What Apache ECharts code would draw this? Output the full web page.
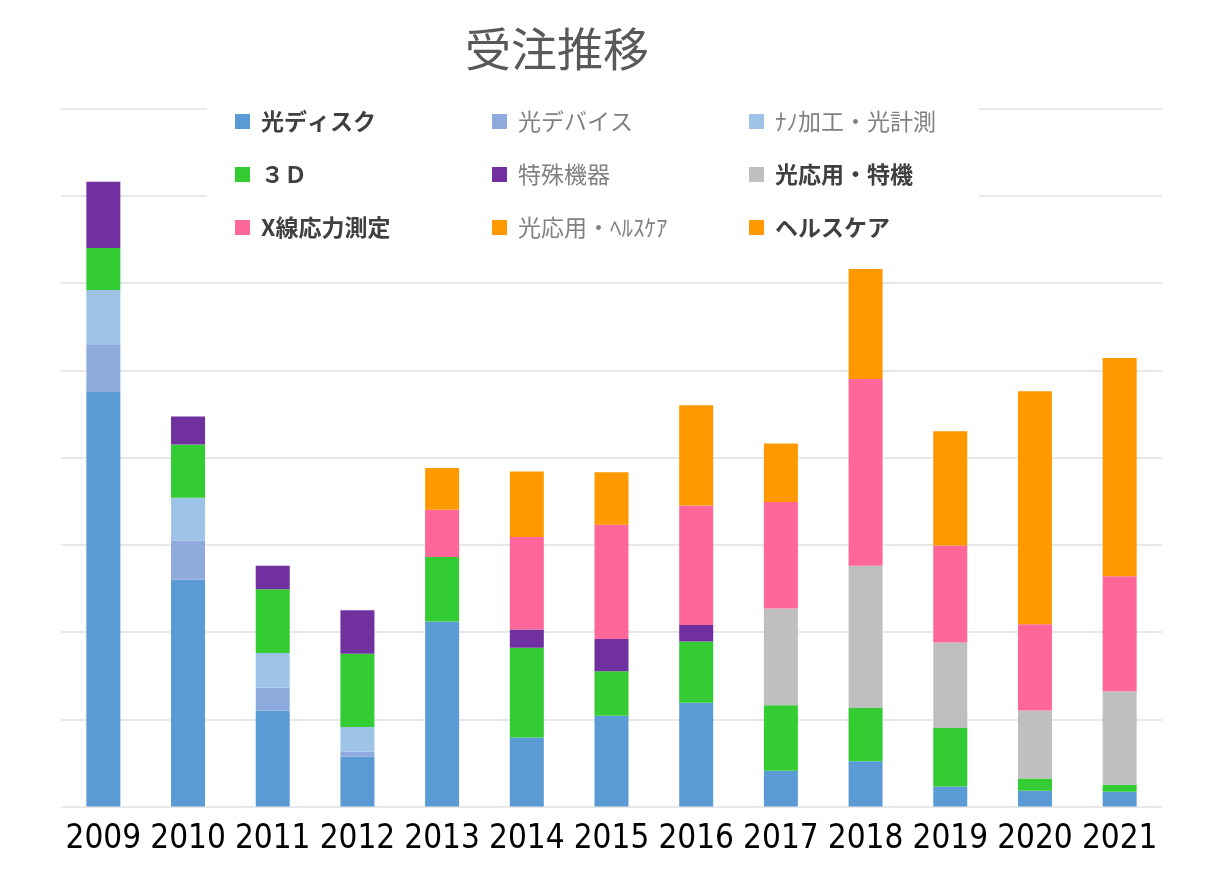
<!DOCTYPE html>
<html>
<head>
<meta charset="utf-8">
<script src="https://cdn.jsdelivr.net/npm/echarts@6/dist/echarts.min.js"></script>
<style>
  html, body { margin: 0; padding: 0; background: #ffffff; }
  #chart { width: 1224px; height: 876px; }
</style>
</head>
<body>
<div id="chart"></div>
<script>
// ---- data (top level, small named arrays) ----
const years = ['2009','2010','2011','2012','2013','2014','2015','2016','2017','2018','2019','2020','2021'];

const seriesNames = ['光ディスク','光デバイス','ﾅﾉ加工・光計測','３Ｄ','特殊機器','光応用・特機','X線応力測定','光応用・ﾍﾙｽｹｱ','ヘルスケア'];

const opticalDisk   = [476, 260, 110, 57, 212, 79, 104, 119, 41, 52, 23, 18, 17];
const opticalDevice = [53, 45, 26, 6, null, null, null, null, null, null, null, null, null];
const nanoMeasure   = [63, 49, 40, 28, null, null, null, null, null, null, null, null, null];
const threeD        = [48, 61, 73, 84, 74, 103, 51, 70, 75, 61, 67, 14, 8];
const specialEquip  = [76, 32, 27, 50, null, 21, 37, 19, null, null, null, null, null];
const opticalSpecial= [null, null, null, null, null, null, null, null, 111, 163, 98, 78, 107];
const xrayStress    = [null, null, null, null, 54, 106, 131, 137, 122, 214, 111, 99, 132];
const opticalHealth = [null, null, null, null, 48, 75, 60, 115, null, null, null, null, null];
const healthcare    = [null, null, null, null, null, null, null, null, 67, 126, 131, 267, 250];

const seriesValues = [opticalDisk, opticalDevice, nanoMeasure, threeD, specialEquip, opticalSpecial, xrayStress, opticalHealth, healthcare];
const seriesColors = ['#5B9BD5','#8FAADC','#9DC3E6','#33CC33','#7030A0','#BFBFBF','#FF6699','#FF9900','#FF9900'];
const boldLegend   = [true, false, false, true, false, true, true, false, true];

const yTicks = { min: 0, max: 800, interval: 100 };

// ---- chart ----
const chart = echarts.init(document.getElementById('chart'), null, { renderer: 'canvas' });
const cjk = "'Noto Sans CJK JP', 'Noto Sans', sans-serif";

function legendItem(i) {
  return {
    name: seriesNames[i],
    textStyle: boldLegend[i]
      ? { color: '#404040', fontWeight: 'bold' }
      : { color: '#808080', fontWeight: 'normal' }
  };
}
function legendCol(left, idx) {
  return {
    orient: 'vertical',
    left: left,
    top: 110,
    padding: 0,
    itemWidth: 15,
    itemHeight: 15,
    itemGap: 30,
    icon: 'rect',
    selectedMode: false,
    textStyle: { fontFamily: cjk, fontSize: 23, padding: [0, 0, 0, 6] },
    data: idx.map(legendItem)
  };
}

const option = {
  backgroundColor: '#ffffff',
  animation: false,
  title: {
    text: '受注推移',
    left: 465,
    top: 26,
    padding: 0,
    textStyle: { fontFamily: cjk, fontSize: 46, fontWeight: 'normal', color: '#595959' }
  },
  graphic: [{
    type: 'rect',
    z: 1,
    shape: { x: 207, y: 88, width: 772, height: 176 },
    style: { fill: '#ffffff' }
  }],
  legend: [
    legendCol(235, [0, 3, 6]),
    legendCol(492, [1, 4, 7]),
    legendCol(749, [2, 5, 8])
  ],
  grid: { left: 61, right: 62, top: 108.5, bottom: 69.5 },
  xAxis: {
    type: 'category',
    data: years,
    axisLine: { show: false },
    axisTick: { show: false },
    axisLabel: {
      interval: 0,
      hideOverlap: false,
      color: '#000000',
      fontSize: 33,
      fontFamily: "'DejaVu Sans Condensed', 'DejaVu Sans', sans-serif",
      margin: 16
    }
  },
  yAxis: {
    type: 'value',
    min: yTicks.min,
    max: yTicks.max,
    interval: yTicks.interval,
    axisLabel: { show: false },
    axisLine: { show: false },
    axisTick: { show: false },
    splitLine: { lineStyle: { color: '#E8E8E8', width: 2 } }
  },
  series: seriesNames.map((name, i) => ({
    name: name,
    type: 'bar',
    stack: 'total',
    barWidth: 34,
    itemStyle: { color: seriesColors[i] },
    data: seriesValues[i]
  }))
};
chart.setOption(option);
</script>
</body>
</html>
